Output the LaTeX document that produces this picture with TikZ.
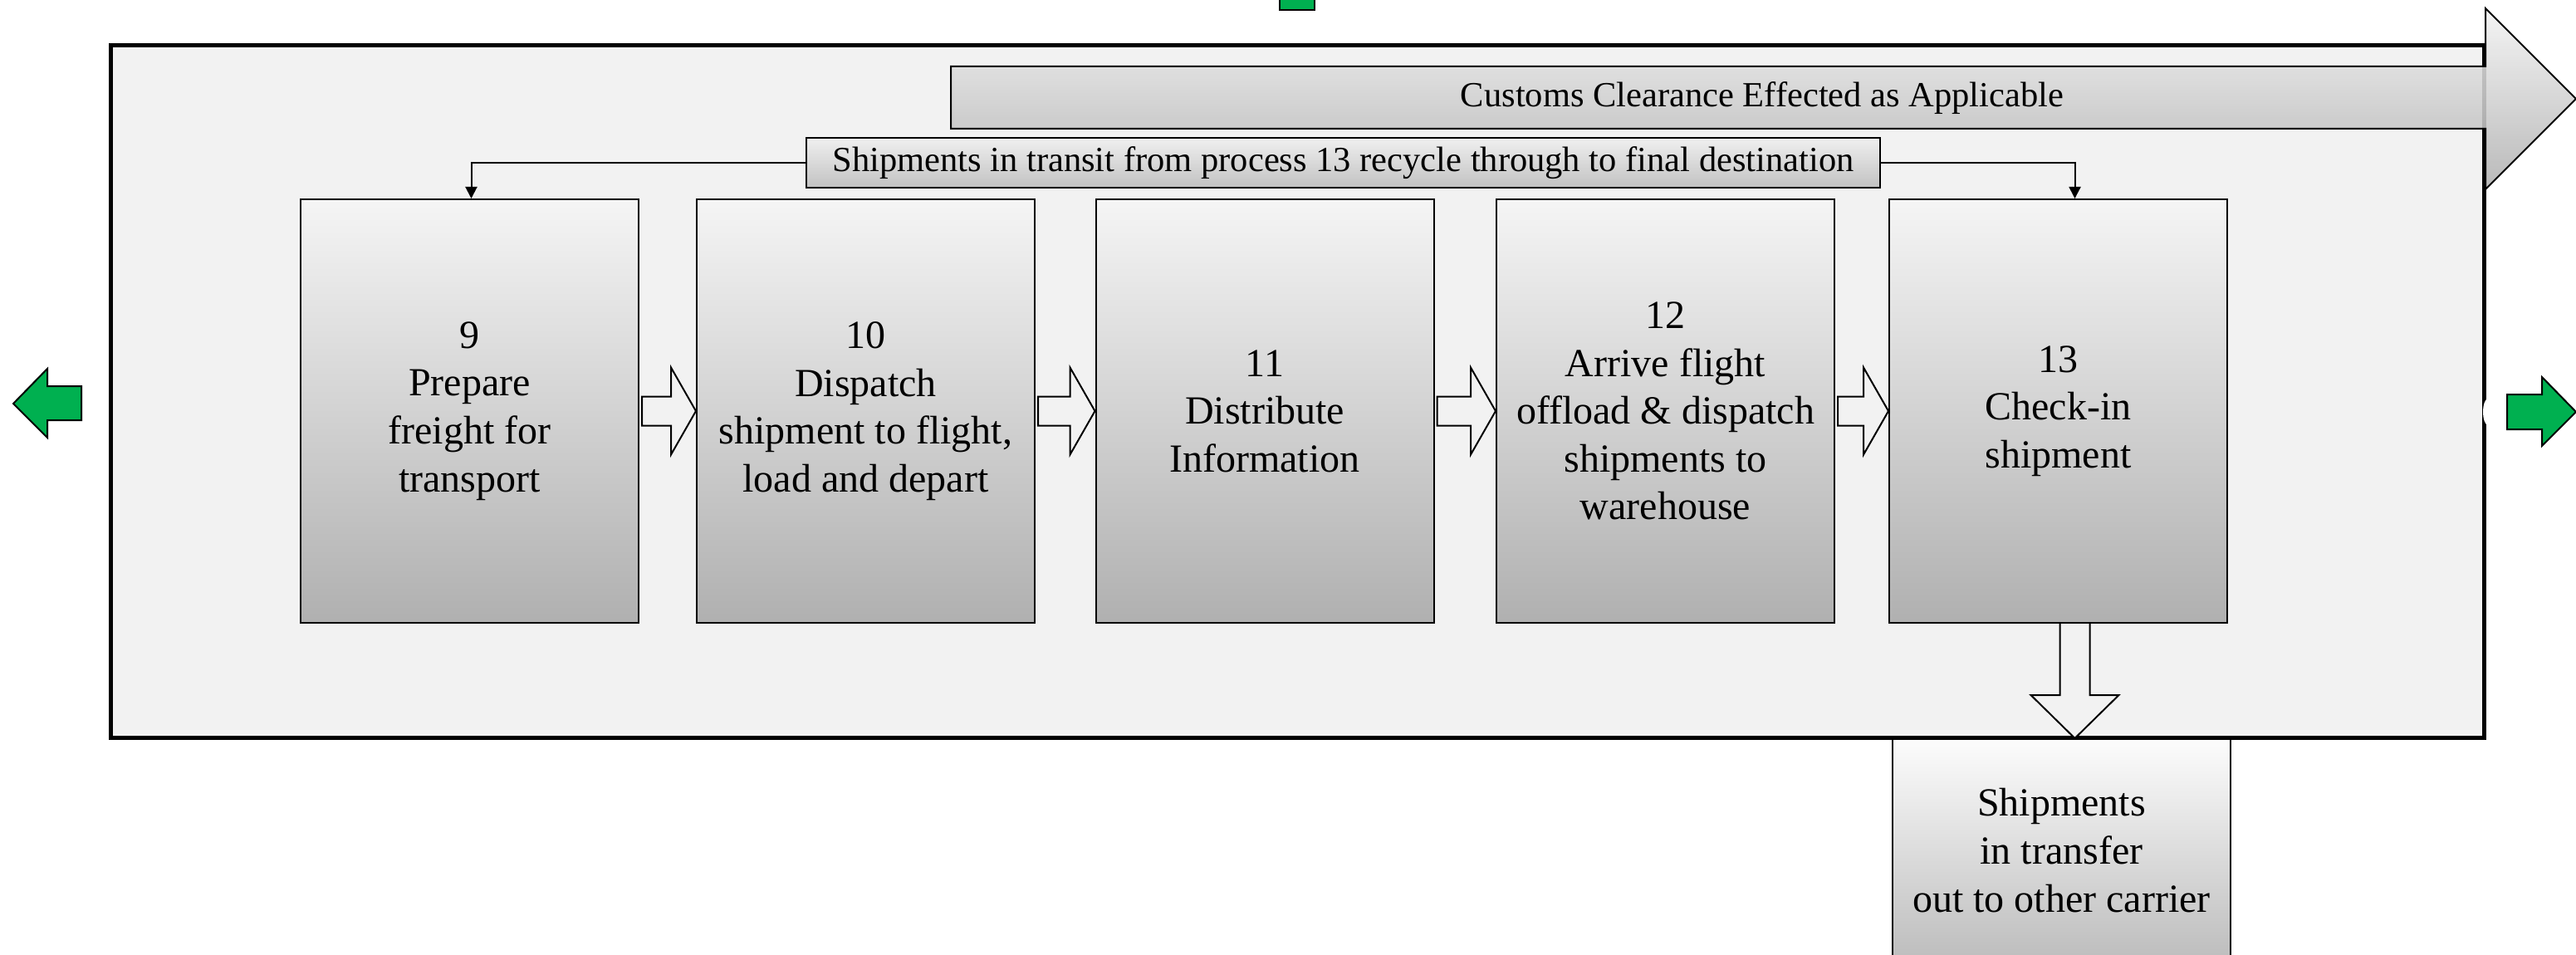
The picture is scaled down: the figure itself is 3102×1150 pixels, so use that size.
\documentclass[tikz,border=0pt]{standalone}
\usepackage{fontspec}
\setmainfont{Liberation Serif}
\usetikzlibrary{arrows.meta,calc}

\definecolor{officegreen}{HTML}{00B050}
\definecolor{panelgray}{HTML}{F2F2F2}

% block arrow from the east side of one box to the west side of the next
\newcommand{\stepto}[2]{
  \draw[flowarrow] ($(#1.east)+(3,17.5)$) -- ($(#2.west)+(-30,17.5)$) -- ($(#2.west)+(-30,52.5)$)
    -- (#2.west) -- ($(#2.west)+(-30,-52.5)$) -- ($(#2.west)+(-30,-17.5)$)
    -- ($(#1.east)+(3,-17.5)$) -- cycle;
}

\begin{document}
\begin{tikzpicture}[x=1pt,y=-1pt,
  mainpanel/.style={draw=black,line width=5pt,fill=panelgray},
  stepbox/.style={draw=black,line width=2pt,top color=black!4,bottom color=black!31,
    minimum width=407pt,minimum height=510pt,align=center,inner sep=0pt,
    font=\fontsize{48}{57.6}\selectfont},
  tagbox/.style={draw=black,line width=2pt,top color=black!6,bottom color=black!24,
    minimum width=1293pt,minimum height=60pt,inner sep=0pt,
    font=\fontsize{42.5}{51}\selectfont},
  flowarrow/.style={draw=black,line width=2pt,fill=panelgray,line join=miter},
  greenarrow/.style={draw=black,line width=2pt,fill=officegreen},
  recycle/.style={draw=black,line width=2pt,-{Triangle[length=14pt,width=14pt]}}
]
\useasboundingbox (0,0) rectangle (3102,1150);

\draw[mainpanel] (133,55) rectangle (2991,888);
\fill[white] (2996,496) ellipse (6 and 16);

% customs band
\draw[draw=black,line width=2pt,top color=black!5,bottom color=black!31,fill opacity=0.88]
  (1145,80) -- (2993,80) -- (2993,10) -- (3102,119) -- (2993,228) -- (2993,155) -- (1145,155) -- cycle;
\node[font=\fontsize{42.5}{51}\selectfont] (customs) at (2122,118) {Customs Clearance Effected as Applicable};

% process steps
\foreach \n/\x/\t in {9/565.5/{9\\Prepare\\freight for\\transport},
                      10/1042.5/{10\\Dispatch\\shipment to flight,\\load and depart},
                      11/1523/{11\\Distribute\\Information},
                      12/2005.5/{12\\Arrive flight\\offload \& dispatch\\shipments to\\warehouse},
                      13/2478.5/{13\\Check-in\\shipment}} {
  \node[stepbox] (b\n) at (\x,495) {\t};
}
\stepto{b9}{b10}
\stepto{b10}{b11}
\stepto{b11}{b12}
\stepto{b12}{b13}

% recycle path
\node[tagbox] (tag) at (1617.5,196) {Shipments in transit from process 13 recycle through to final destination};
\draw[recycle] (tag.west) -| ($(b9.north)+(2,0)$);
\draw[recycle] (tag.east) -| ($(b13.north)+(20,0)$);

% transfer out
\node[stepbox,top color=black!1,bottom color=black!26,minimum height=268pt] (xfer) at (2482.5,1024)
  {Shipments\\in transfer\\out to other carrier};
\coordinate (dtop) at ($(b13.south)+(20,0)$);
\coordinate (dtip) at (dtop |- xfer.north);
\draw[flowarrow] ($(dtop)+(-18,0)$) -- ($(dtip)+(-18,-52)$) -- ($(dtip)+(-53,-52)$) -- (dtip)
  -- ($(dtip)+(53,-52)$) -- ($(dtip)+(18,-52)$) -- ($(dtop)+(18,0)$);

% off-page connectors
\draw[greenarrow] (1541,-30) rectangle (1583,12);
\draw[greenarrow] (16,486) -- (57,444) -- (57,465) -- (98,465) -- (98,506) -- (57,506) -- (57,527) -- cycle;
\draw[greenarrow] (3019,475) -- (3061,475) -- (3061,454) -- (3102,496) -- (3061,537) -- (3061,517) -- (3019,517) -- cycle;
\end{tikzpicture}
\end{document}
